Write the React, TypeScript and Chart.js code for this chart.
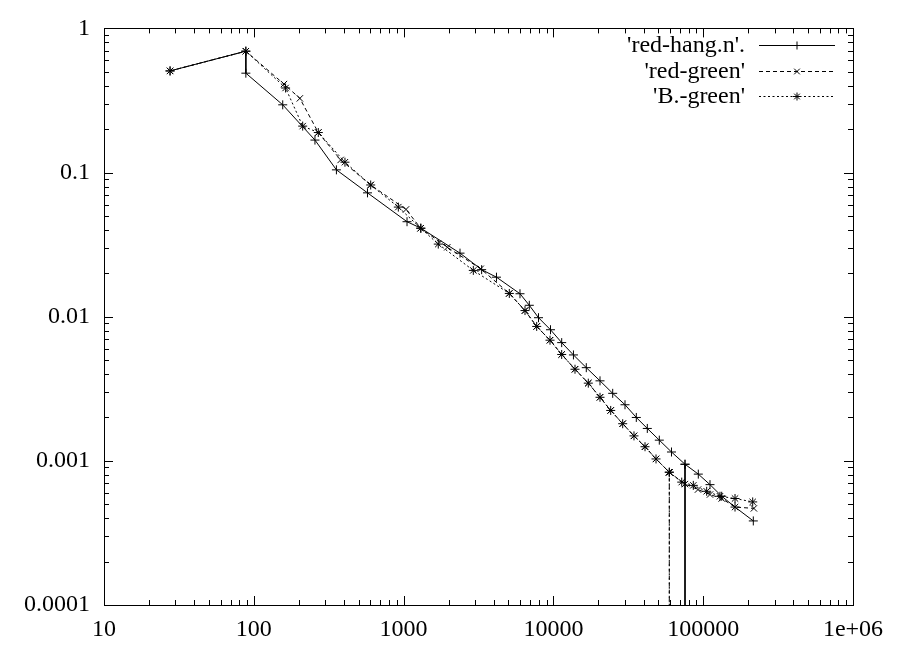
import React, { useEffect, useRef } from "react";
import { Chart, registerables } from "chart.js";

Chart.register(...registerables);

const xTickValues = [10, 100, 1000, 10000, 100000, 1000000];
const xTickLabels = ["10", "100", "1000", "10000", "100000", "1e+06"];
const yTickValues = [1, 0.1, 0.01, 0.001, 0.0001];
const yTickLabels = ["1", "0.1", "0.01", "0.001", "0.0001"];

const seriesNames = ["'red-hang.n'.", "'red-green'", "'B.-green'"];

// 'red-hang.n'. (solid, +)
const redHangX = [27.6, 88.5, 88.5, 156, 256, 356, 574, 1054, 1306, 2380, 3319, 4169, 5984, 6904, 7954, 9564, 11360, 13610, 16580, 20470, 24880, 30060, 35760, 42350, 50930, 61430, 75600, 75600, 75600, 75600, 92750, 111000, 132900, 163100, 216000];
const redHangY = [0.507, 0.695, 0.489, 0.295, 0.168, 0.1044, 0.0723, 0.0456, 0.0411, 0.0276, 0.0212, 0.0188, 0.01443, 0.012, 0.00984, 0.00812, 0.00661, 0.00543, 0.00443, 0.00359, 0.00294, 0.00245, 0.002, 0.001678, 0.001392, 0.001152, 0.000947, 0.000001, null, 0.000947, 0.000809, 0.000684, 0.000568, 0.000478, 0.000383];

// 'red-green' (dashed, x)
const redGreenX = [27.6, 88.5, 159, 203, 269.5, 380, 603, 1038, 1300, 1957, 3271, 5077, 6463, 7736, 9491, 11360, 13940, 17100, 20470, 24130, 29010, 34510, 40890, 48420, 59390, 59390, 59390, 59390, 75600, 92300, 111000, 132900, 163100, 218000];
const redGreenY = [0.507, 0.695, 0.411, 0.327, 0.1895, 0.1223, 0.082, 0.0555, 0.0411, 0.0303, 0.0215, 0.0145, 0.01103, 0.00856, 0.00687, 0.00547, 0.00432, 0.00346, 0.00276, 0.002237, 0.00181, 0.00149, 0.001253, 0.001031, 0.000834, 0.000001, null, 0.000834, 0.00069, 0.000632, 0.000584, 0.000548, 0.000478, 0.000468];

// 'B.-green' (dotted, *)
const bGreenX = [27.6, 88.5, 163, 212, 269.5, 406, 603, 922, 1300, 1704, 2920, 5077, 6463, 7736, 9491, 11360, 13940, 17100, 20470, 24130, 29010, 34510, 40890, 48420, 59390, 59390, 59390, 59390, 71880, 85900, 105500, 129400, 163100, 214000];
const bGreenY = [0.507, 0.695, 0.386, 0.21, 0.1895, 0.118, 0.082, 0.0576, 0.0411, 0.0319, 0.02095, 0.0145, 0.01103, 0.00856, 0.00687, 0.00547, 0.00432, 0.00346, 0.00276, 0.002237, 0.00181, 0.00149, 0.001253, 0.001031, 0.000834, 0.000001, null, 0.000834, 0.000712, 0.000676, 0.000615, 0.000568, 0.000548, 0.000519];

const FONT = "'Liberation Serif', 'Times New Roman', serif";
const FONT_SIZE = 24;

function toPoints(xs: number[], ys: (number | null)[]) {
  return xs.map((x, i) => ({ x, y: ys[i] }));
}

function drawMarker(ctx: CanvasRenderingContext2D, style: string, x: number, y: number, r: number) {
  ctx.beginPath();
  if (style === "cross" || style === "star") {
    ctx.moveTo(x - r, y);
    ctx.lineTo(x + r, y);
    ctx.moveTo(x, y - r);
    ctx.lineTo(x, y + r);
  }
  if (style === "crossRot" || style === "star") {
    const d = style === "star" ? r * Math.SQRT1_2 : r * Math.SQRT1_2;
    ctx.moveTo(x - d, y - d);
    ctx.lineTo(x + d, y + d);
    ctx.moveTo(x - d, y + d);
    ctx.lineTo(x + d, y - d);
  }
  ctx.stroke();
}

const framePlugin = {
  id: "gnuFrame",
  afterDatasetsDraw(chart: any) {
    const { ctx, chartArea } = chart;
    const { left, right, top, bottom } = chartArea;
    const xs = chart.scales.x;
    const ys = chart.scales.y;
    ctx.save();
    ctx.strokeStyle = "#000";
    ctx.lineWidth = 1;
    ctx.setLineDash([]);
    ctx.strokeRect(Math.round(left) + 0.5, Math.round(top) + 0.5, Math.round(right - left), Math.round(bottom - top));
    const major = 9;
    const minor = 5;
    ctx.beginPath();
    // x ticks
    for (let e = 1; e <= 6; e++) {
      for (let m = 1; m <= 9; m++) {
        const v = m * Math.pow(10, e);
        if (v > 1e6 + 1) break;
        const len = m === 1 ? major : minor;
        const px = Math.round(xs.getPixelForValue(v)) + 0.5;
        ctx.moveTo(px, bottom);
        ctx.lineTo(px, bottom - len);
        ctx.moveTo(px, top);
        ctx.lineTo(px, top + len);
      }
    }
    // y ticks
    for (let e = -4; e <= 0; e++) {
      for (let m = 1; m <= 9; m++) {
        const v = m * Math.pow(10, e);
        if (v > 1.0001) break;
        const len = m === 1 ? major : minor;
        const py = Math.round(ys.getPixelForValue(v)) + 0.5;
        ctx.moveTo(left, py);
        ctx.lineTo(left + len, py);
        ctx.moveTo(right, py);
        ctx.lineTo(right - len, py);
      }
    }
    ctx.stroke();
    ctx.restore();
  },
  afterDraw(chart: any) {
    const { ctx } = chart;
    ctx.save();
    ctx.font = `${FONT_SIZE}px ${FONT}`;
    ctx.fillStyle = "#000";
    ctx.textAlign = "right";
    ctx.textBaseline = "middle";
    chart.data.datasets.forEach((ds: any, i: number) => {
      const y = 45 + i * 25.5;
      ctx.fillText(ds.label, 745, y + 1);
      ctx.strokeStyle = "#000";
      ctx.lineWidth = 1;
      ctx.setLineDash(ds.borderDash || []);
      ctx.beginPath();
      ctx.moveTo(759, Math.round(y) + 0.5);
      ctx.lineTo(835, Math.round(y) + 0.5);
      ctx.stroke();
      ctx.setLineDash([]);
      drawMarker(ctx, ds.pointStyle, 797, Math.round(y) + 0.5, 4);
    });
    ctx.restore();
  },
};

export default function App() {
  const canvasRef = useRef<HTMLCanvasElement | null>(null);

  useEffect(() => {
    if (!canvasRef.current) return;
    const common = {
      borderColor: "#000",
      backgroundColor: "#000",
      pointBorderColor: "#000",
      borderWidth: 1,
      pointBorderWidth: 1,
      pointRadius: 4.5,
      pointHoverRadius: 4.5,
      fill: false,
      spanGaps: false,
      tension: 0,
    };
    const chart = new Chart(canvasRef.current, {
      type: "line",
      data: {
        datasets: [
          { ...common, label: seriesNames[0], data: toPoints(redHangX, redHangY), pointStyle: "cross", borderDash: [] },
          { ...common, label: seriesNames[1], data: toPoints(redGreenX, redGreenY), pointStyle: "crossRot", borderDash: [4, 3] },
          { ...common, label: seriesNames[2], data: toPoints(bGreenX, bGreenY), pointStyle: "star", borderDash: [2, 2.5] },
        ] as any,
      },
      options: {
        animation: false,
        responsive: false,
        maintainAspectRatio: false,
        layout: { padding: { top: 22, right: 55, left: 0, bottom: 0 } },
        plugins: { legend: { display: false }, tooltip: { enabled: false } },
        events: [],
        scales: {
          x: {
            type: "logarithmic",
            min: 10,
            max: 1000000,
            grid: { display: false, drawTicks: false },
            border: { display: false },
            ticks: {
              autoSkip: false,
              maxRotation: 0,
              padding: 10,
              color: "#000",
              font: { family: FONT, size: FONT_SIZE },
              callback: (_v: any, i: number) => xTickLabels[i],
            },
            afterBuildTicks: (s: any) => {
              s.ticks = xTickValues.map((v) => ({ value: v }));
            },
            afterFit: (s: any) => {
              s.height = 40;
            },
          },
          y: {
            type: "logarithmic",
            min: 0.0001,
            max: 1,
            grid: { display: false, drawTicks: false },
            border: { display: false },
            ticks: {
              autoSkip: false,
              padding: 14,
              color: "#000",
              font: { family: FONT, size: FONT_SIZE },
              callback: (_v: any, i: number) => yTickLabels[i],
            },
            afterBuildTicks: (s: any) => {
              s.ticks = yTickValues.map((v) => ({ value: v }));
            },
            afterFit: (s: any) => {
              s.width = 104;
            },
          },
        },
      } as any,
      plugins: [framePlugin],
    });
    return () => chart.destroy();
  }, []);

  return (
    <div style={{ position: "absolute", left: 0, top: 0, width: 908, height: 645, background: "#fff" }}>
      <canvas ref={canvasRef} width={908} height={645} style={{ width: 908, height: 645, display: "block" }} />
    </div>
  );
}
